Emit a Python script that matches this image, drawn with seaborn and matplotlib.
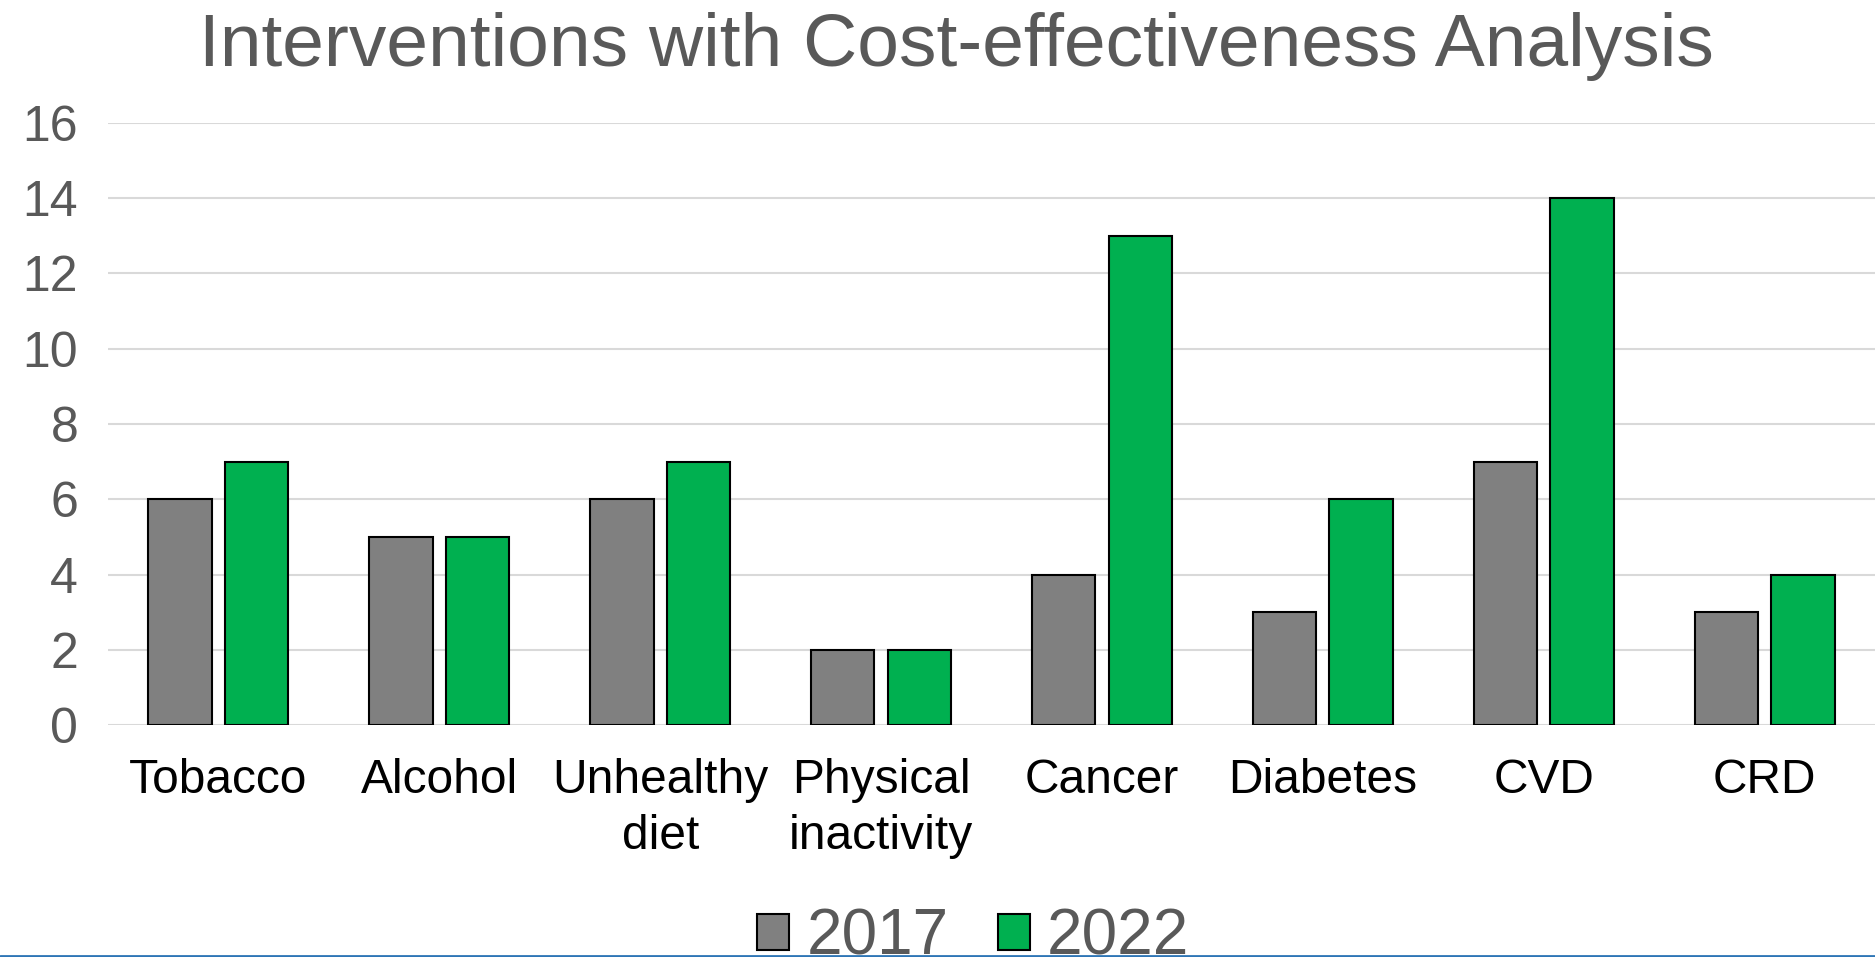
import pandas as pd
import seaborn as sns
import matplotlib.pyplot as plt
from matplotlib.lines import Line2D

# -----------------------------
# Data
# -----------------------------
categories = ["Tobacco", "Alcohol", "Unhealthy\ndiet", "Physical\ninactivity",
              "Cancer", "Diabetes", "CVD", "CRD"]
years = ["2017", "2022"]
v2017 = [6, 5, 6, 2, 4, 3, 7, 3]
v2022 = [7, 5, 7, 2, 13, 6, 14, 4]
y_ticks = [0, 2, 4, 6, 8, 10, 12, 14, 16]

df = pd.DataFrame({
    "category": categories * 2,
    "year": [years[0]] * len(categories) + [years[1]] * len(categories),
    "count": v2017 + v2022,
})

# -----------------------------
# Plot
# -----------------------------
sns.set_theme(style="white")
plt.rcParams["font.family"] = ["Liberation Sans", "DejaVu Sans"]

text_grey = "#595959"

fig = plt.figure(figsize=(18.75, 9.57), dpi=100)
ax = fig.add_axes([0.0576, 0.2424, 0.9424, 0.6291])

sns.barplot(
    data=df, x="category", y="count", hue="year",
    order=categories, hue_order=years,
    palette=["#808080", "#00B050"], saturation=1,
    width=0.693, gap=0.172,
    edgecolor="black", linewidth=1.5,
    ax=ax,
)

ax.set_ylim(0, 16)
ax.set_xlim(-0.5, len(categories) - 0.5)
ax.set_yticks(y_ticks)
ax.yaxis.grid(True, color="#d9d9d9", linewidth=1.5)
ax.set_axisbelow(True)
for s in ax.spines.values():
    s.set_visible(False)

ax.set_xlabel("")
ax.set_ylabel("")
ax.tick_params(axis="y", length=0, pad=21.5, labelsize=36, labelcolor=text_grey)
ax.tick_params(axis="x", length=0, pad=24, labelsize=34.5, labelcolor="black")
for lab in ax.get_xticklabels():
    lab.set_linespacing(1.3)

# legend (sits on the bottom edge, as in the slide)
handles, labels = ax.get_legend_handles_labels()
ax.get_legend().remove()
fig.legend(
    handles, labels,
    loc="center", bbox_to_anchor=(0.519, 0.02),
    ncol=2, frameon=False,
    fontsize=46, labelcolor=text_grey,
    handlelength=0.5, handleheight=0.5,
    handletextpad=0.27, columnspacing=0.77,
)

fig.text(0.51, 0.931, "Interventions with Cost-effectiveness Analysis",
         ha="center", va="baseline", fontsize=54, color=text_grey)

# slide border at the bottom
fig.add_artist(Line2D([0, 1], [0.001, 0.001], transform=fig.transFigure,
                      color="#2e75b6", linewidth=2))

plt.savefig("out.png", dpi=100)
